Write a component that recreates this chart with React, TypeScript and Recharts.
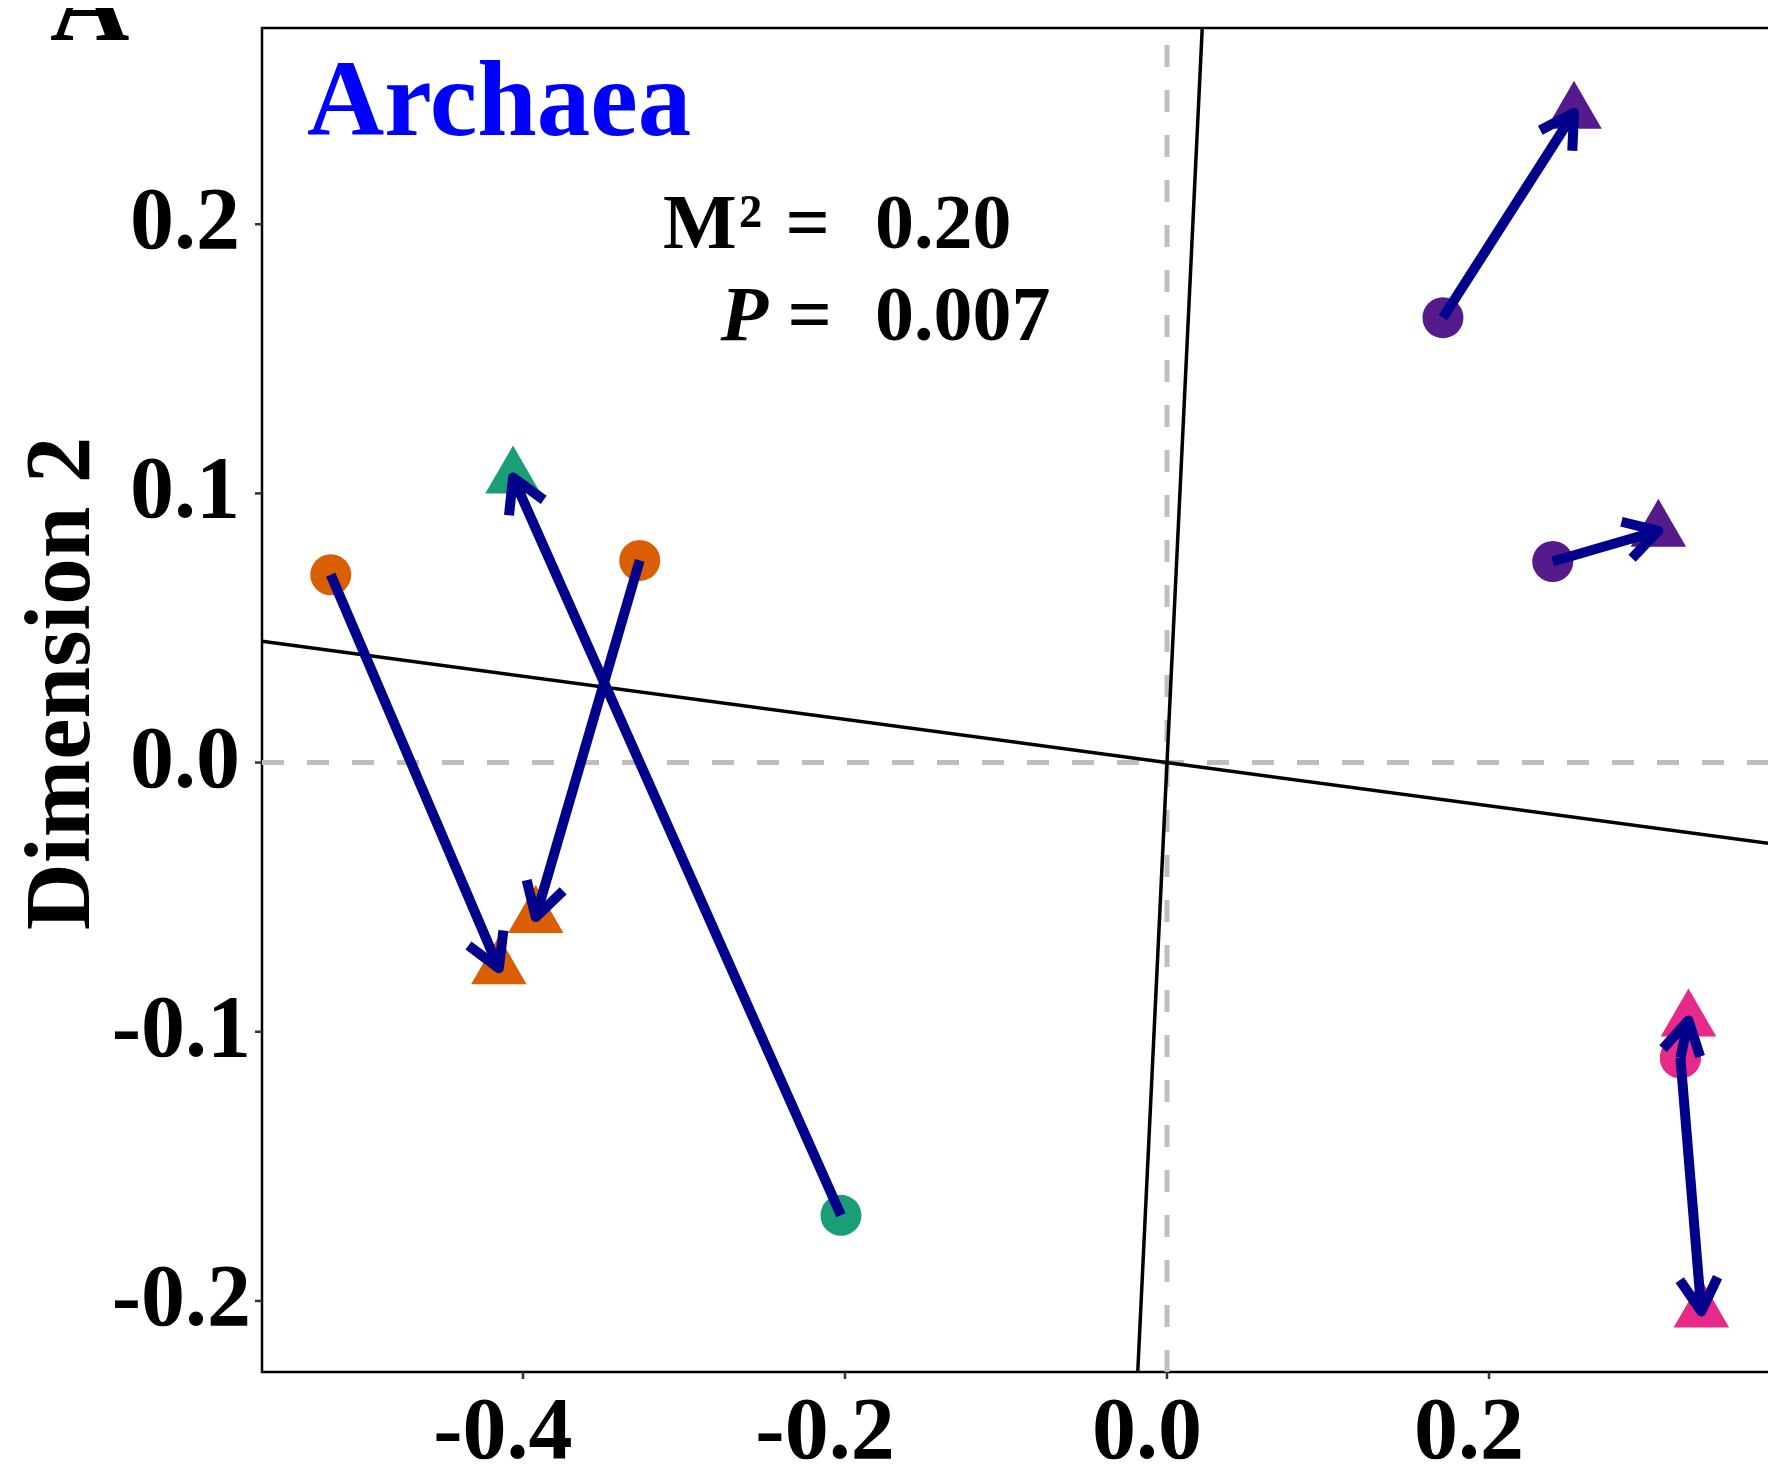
import React from 'react';
import { ScatterChart, Scatter, XAxis, YAxis, ReferenceLine, ReferenceArea } from 'recharts';

// ---- data ----
const sampleGroup = ['orange', 'orange', 'green', 'purple', 'purple', 'pink', 'pink'];
// configuration 1 (circles)
const dim1Config1 = [-0.5194, -0.3275, -0.2025, 0.1714, 0.2396, 0.3189, 0.3189];
const dim2Config1 = [0.0698, 0.0751, -0.1682, 0.1653, 0.0747, -0.1097, -0.1097];
// configuration 2 (triangles)
const dim1Config2 = [-0.4150, -0.3921, -0.4062, 0.2528, 0.3052, 0.3319, 0.3239];
const dim2Config2 = [-0.0764, -0.0574, 0.1059, 0.2414, 0.0861, -0.2039, -0.0958];

const groupColors: Record<string, string> = {
  orange: '#D95F02',
  green: '#1B9E77',
  purple: '#551A8B',
  pink: '#E7298A',
};

const xTicks = [-0.4, -0.2, 0, 0.2];
const yTicks = [-0.2, -0.1, 0, 0.1, 0.2];
// the reference is cropped on the right: the panel continues past the picture edge
const xDomain: [number, number] = [-0.5621, 0.4];
const yDomain: [number, number] = [-0.2264, 0.2729];
// Procrustes rotation axis (slope of the first rotated axis)
const rotationSlope = -0.0802;
const statM2 = '0.20';
const statP = '0.007';
const panelTitle = 'Archaea';
const panelLetter = 'A';
const yTitle = 'Dimension 2';

// ---- derived tables ----
const circleData = sampleGroup.map((g, i) => ({ x: dim1Config1[i], y: dim2Config1[i], group: g }));
const triangleData = sampleGroup.map((g, i) => ({ x: dim1Config2[i], y: dim2Config2[i], group: g }));
const arrowData = sampleGroup.flatMap((g, i) => [
  { x: dim1Config1[i], y: dim2Config1[i], group: g },
  { x: dim1Config2[i], y: dim2Config2[i], group: g },
]);
const axis1Segment = [
  { x: xDomain[0], y: rotationSlope * xDomain[0] },
  { x: xDomain[1], y: rotationSlope * xDomain[1] },
];
const axis2Segment = [
  { x: -rotationSlope * yDomain[1], y: yDomain[1] },
  { x: -rotationSlope * yDomain[0], y: yDomain[0] },
];

const FONT = "'Liberation Serif', 'Times New Roman', serif";
const ARROW = '#00008B';

const CircleShape = (props: any) => {
  const { cx, cy, payload } = props;
  if (cx == null || cy == null) return <g />;
  return <circle cx={cx} cy={cy} r={20.5} fill={groupColors[payload.group]} />;
};

const TriangleShape = (props: any) => {
  const { cx, cy, payload } = props;
  if (cx == null || cy == null) return <g />;
  const s = 55.5;
  const h = (s * Math.sqrt(3)) / 2;
  const pts = `${cx},${cy - (2 * h) / 3} ${cx - s / 2},${cy + h / 3} ${cx + s / 2},${cy + h / 3}`;
  return <polygon points={pts} fill={groupColors[payload.group]} />;
};

const EmptyShape = () => <g />;

const renderArrows = (props: any) => {
  const pts = props.points || [];
  const els: any[] = [];
  for (let i = 0; i + 1 < pts.length; i += 2) {
    const a = pts[i];
    const b = pts[i + 1];
    const ang = Math.atan2(b.y - a.y, b.x - a.x);
    const L = 38;
    const phi = Math.PI / 6;
    const p1 = { x: b.x - L * Math.cos(ang - phi), y: b.y - L * Math.sin(ang - phi) };
    const p2 = { x: b.x - L * Math.cos(ang + phi), y: b.y - L * Math.sin(ang + phi) };
    els.push(
      <g key={i}>
        <line x1={a.x} y1={a.y} x2={b.x} y2={b.y} stroke={ARROW} strokeWidth={10} strokeLinecap="butt" />
        <polyline
          points={`${p1.x},${p1.y} ${b.x},${b.y} ${p2.x},${p2.y}`}
          fill="none"
          stroke={ARROW}
          strokeWidth={10}
          strokeLinecap="butt"
          strokeLinejoin="round"
        />
      </g>
    );
  }
  return <g className="arrows">{els}</g>;
};

const XTick = (props: any) => {
  const { x, y, payload } = props;
  return (
    <text x={x - 20} y={y + 79} textAnchor="middle" fontFamily={FONT} fontWeight="bold" fontSize={88} fill="#000">
      {Number(payload.value).toFixed(1)}
    </text>
  );
};

const YTick = (props: any) => {
  const { x, y, payload } = props;
  const v = Number(payload.value);
  const neg = v < -1e-9;
  return (
    <text x={x - (neg ? 4 : 15)} y={y + 24} textAnchor="end" fontFamily={FONT} fontWeight="bold" fontSize={88} fill="#000">
      {v.toFixed(1)}
    </text>
  );
};

export default function App() {
  return (
    <div
      style={{
        position: 'fixed',
        left: 0,
        top: 0,
        width: 1768,
        height: 1468,
        overflow: 'hidden',
        background: '#fff',
      }}
    >
      <div style={{ position: 'absolute', left: 8, top: 8 }}>
        <ScatterChart width={1850} height={1500} margin={{ top: 20, right: 47, bottom: 0, left: 0 }}>
          <XAxis
            type="number"
            dataKey="x"
            domain={xDomain}
            ticks={xTicks}
            allowDataOverflow
            height={136}
            axisLine={false}
            tickLine={{ stroke: '#333', strokeWidth: 2.5 }}
            tickSize={7}
            tickMargin={0}
            tick={<XTick />}
            interval={0}
          />
          <YAxis
            type="number"
            dataKey="y"
            domain={yDomain}
            ticks={yTicks}
            allowDataOverflow
            width={254}
            axisLine={false}
            tickLine={{ stroke: '#333', strokeWidth: 2.5 }}
            tickSize={7}
            tickMargin={0}
            tick={<YTick />}
            interval={0}
          />
          <ReferenceLine x={0} stroke="#BEBEBE" strokeWidth={5} strokeDasharray="22 23" ifOverflow="visible" />
          <ReferenceLine y={0} stroke="#BEBEBE" strokeWidth={5} strokeDasharray="22 23" ifOverflow="visible" />
          <ReferenceLine segment={axis1Segment} stroke="#000" strokeWidth={3.5} ifOverflow="visible" />
          <ReferenceLine segment={axis2Segment} stroke="#000" strokeWidth={3.5} ifOverflow="visible" />
          <Scatter data={triangleData} shape={TriangleShape} isAnimationActive={false} />
          <Scatter data={circleData} shape={CircleShape} isAnimationActive={false} />
          <Scatter data={arrowData} shape={EmptyShape} line={renderArrows} isAnimationActive={false} />
          <ReferenceArea
            x1={xDomain[0]}
            x2={xDomain[1]}
            y1={yDomain[0]}
            y2={yDomain[1]}
            fill="none"
            fillOpacity={0}
            stroke="#000"
            strokeWidth={2.5}
            ifOverflow="visible"
          />
          <text x={42} y={32} fontFamily={FONT} fontWeight="bold" fontSize={110} fill="#000">
            {panelLetter}
          </text>
          <text x={299} y={127} fontFamily={FONT} fontWeight="bold" fontSize={107} fill="#0000FF">
            {panelTitle}
          </text>
          <text x={824} y={240} textAnchor="end" fontFamily={FONT} fontWeight="bold" fontSize={78} fill="#000" letterSpacing={2}>
            {'M\u00B2 ='}
          </text>
          <text x={867} y={240} fontFamily={FONT} fontWeight="bold" fontSize={78} fill="#000">
            {statM2}
          </text>
          <text x={824} y={332} textAnchor="end" fontFamily={FONT} fontWeight="bold" fontSize={78} fill="#000">
            <tspan fontStyle="italic">P</tspan>
            {' ='}
          </text>
          <text x={867} y={332} fontFamily={FONT} fontWeight="bold" fontSize={78} fill="#000">
            {statP}
          </text>
          <text
            x={81}
            y={675.5}
            transform="rotate(-90, 81, 675.5)"
            textAnchor="middle"
            fontFamily={FONT}
            fontWeight="bold"
            fontSize={93}
            fill="#000"
          >
            {yTitle}
          </text>
        </ScatterChart>
      </div>
    </div>
  );
}
